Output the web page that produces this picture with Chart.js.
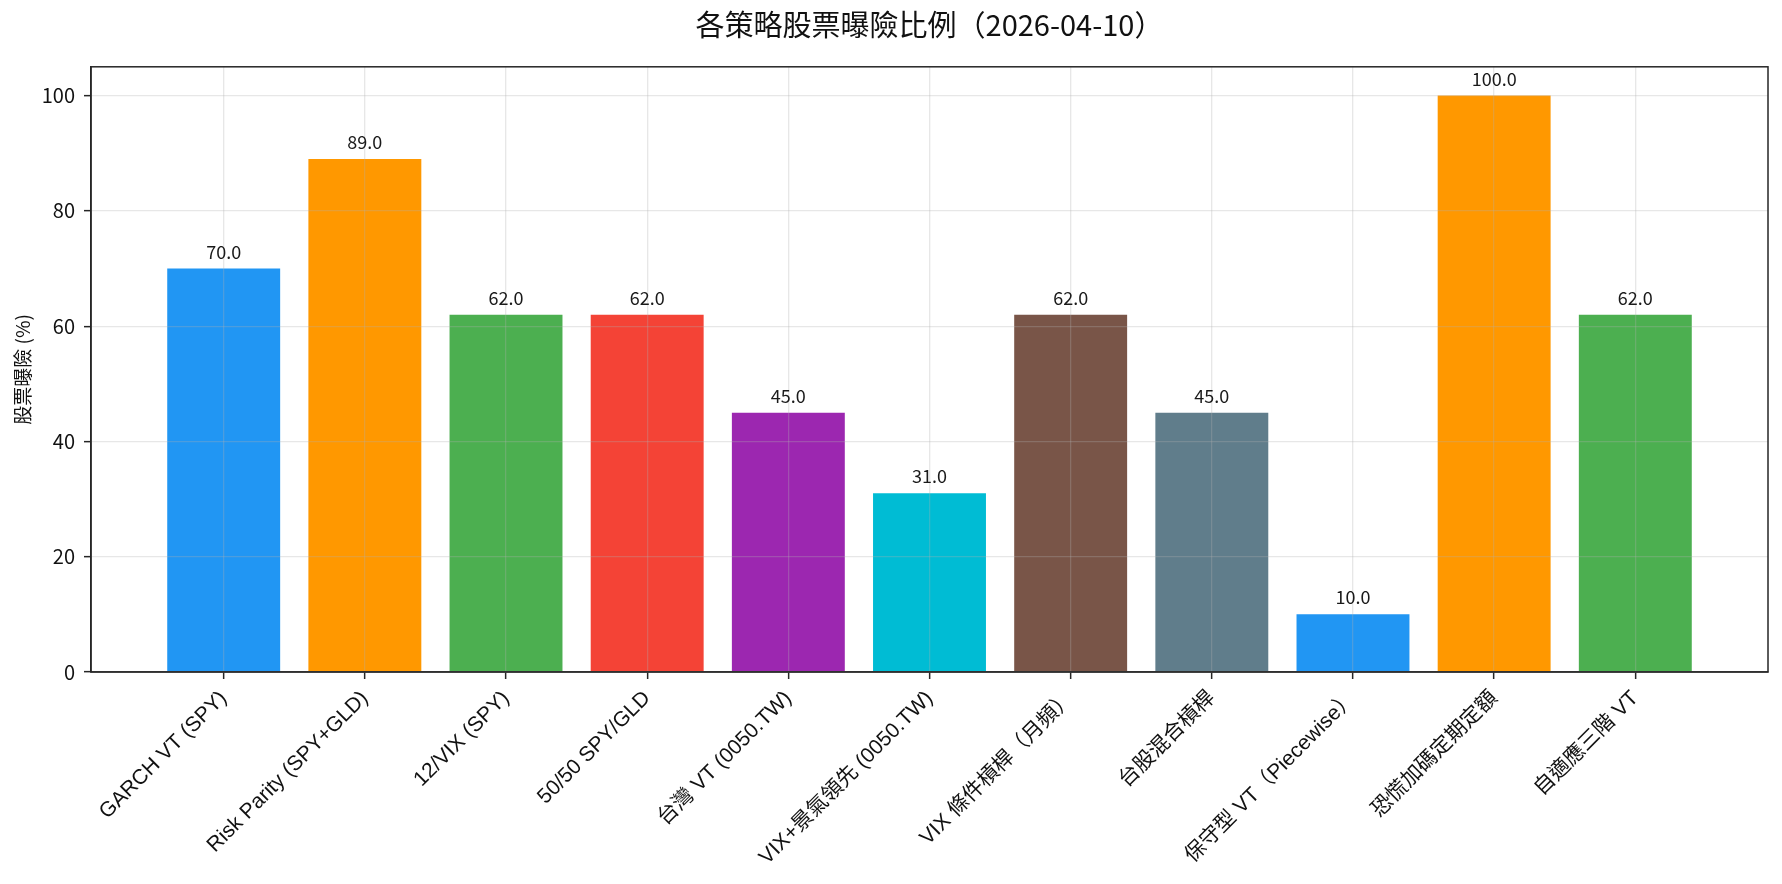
<!DOCTYPE html>
<html>
<head>
<meta charset="utf-8">
<script src="https://cdn.jsdelivr.net/npm/chart.js@4.4.1/dist/chart.umd.min.js"></script>
<style>
html, body { margin: 0; padding: 0; background: #fff; }
</style>
</head>
<body>
<canvas id="chart" width="1782" height="884"></canvas>
<script>
// 各策略名稱與曝險比例
var strategies = [
    'GARCH VT (SPY)',
    'Risk Parity (SPY+GLD)',
    '12/VIX (SPY)',
    '50/50 SPY/GLD',
    '台灣 VT (0050.TW)',
    'VIX+景氣領先 (0050.TW)',
    'VIX 條件槓桿（月頻）',
    '台股混合槓桿',
    '保守型 VT（Piecewise）',
    '恐慌加碼定期定額',
    '自適應三階 VT'
];
var exposure = [70, 89, 62, 62, 45, 31, 62, 45, 10, 100, 62];
var barColors = ['#2196F3', '#FF9800', '#4CAF50', '#F44336', '#9C27B0', '#00BCD4',
                 '#795548', '#607D8B', '#2196F3', '#FF9800', '#4CAF50'];
var yTicks = [0, 20, 40, 60, 80, 100];

var cjk = "'Noto Sans CJK TC', 'Noto Sans CJK SC', sans-serif";
var latin = "'Liberation Sans', 'Noto Sans CJK TC', sans-serif";
var ink = '#262626';

Chart.defaults.font.family = cjk;
Chart.defaults.color = ink;

// 外框（上、右邊線）
var framePlugin = {
    id: 'frame',
    afterDraw: function (c) {
        var a = c.chartArea, ctx = c.ctx;
        ctx.save();
        ctx.strokeStyle = ink;
        ctx.lineWidth = 1.5;
        ctx.strokeRect(a.left, a.top, a.right - a.left, a.bottom - a.top);
        ctx.restore();
    }
};

// 柱頂數值標籤
var valuePlugin = {
    id: 'values',
    afterDraw: function (c) {
        var ctx = c.ctx;
        var bars = c.getDatasetMeta(0).data;
        ctx.save();
        ctx.font = '18px ' + cjk;
        ctx.fillStyle = '#1a1a1a';
        ctx.textAlign = 'center';
        ctx.textBaseline = 'alphabetic';
        for (var i = 0; i < bars.length; i++) {
            ctx.fillText(exposure[i].toFixed(1), bars[i].x, bars[i].y - 10);
        }
        ctx.restore();
    }
};

var gridOpts = {
    z: 1,
    color: 'rgba(176,176,176,0.3)',
    lineWidth: 1.3,
    tickColor: ink,
    tickLength: 7,
    tickWidth: 1.5,
    offset: false
};

new Chart(document.getElementById('chart'), {
    type: 'bar',
    data: {
        datasets: [{
            data: exposure.map(function (v, i) { return { x: i, y: v }; }),
            backgroundColor: barColors,
            borderWidth: 0,
            barPercentage: 0.8,
            categoryPercentage: 1.0
        }]
    },
    options: {
        responsive: false,
        animation: false,
        devicePixelRatio: 1,
        layout: { padding: { left: 0, right: 14, top: 0, bottom: 0 } },
        plugins: {
            legend: { display: false },
            tooltip: { enabled: false },
            title: {
                display: true,
                fullSize: false,
                text: '各策略股票曝險比例（2026-04-10）',
                font: { size: 29, weight: 'normal' },
                color: '#111',
                padding: { top: 8, bottom: 24 }
            }
        },
        scales: {
            x: {
                type: 'linear',
                offset: false,
                min: -0.94,
                max: 10.94,
                afterBuildTicks: function (s) {
                    s.ticks = strategies.map(function (_, i) { return { value: i }; });
                },
                afterFit: function (s) { s.height = 212; },
                ticks: {
                    autoSkip: false,
                    maxRotation: 45,
                    minRotation: 45,
                    padding: 7,
                    font: { size: 21, family: latin },
                    color: '#111',
                    callback: function (v) { return strategies[v]; }
                },
                grid: gridOpts,
                border: { z: 1, color: ink, width: 1.5 }
            },
            y: {
                min: 0,
                max: 105,
                afterBuildTicks: function (s) {
                    s.ticks = yTicks.map(function (v) { return { value: v }; });
                },
                afterFit: function (s) { s.width = 91; },
                ticks: {
                    padding: 9,
                    font: { size: 20 },
                    color: '#111'
                },
                grid: gridOpts,
                border: { z: 1, color: ink, width: 1.5 },
                title: {
                    display: true,
                    text: '股票曝險 (%)',
                    font: { size: 19 },
                    color: '#111',
                    padding: { top: 11, bottom: 4 }
                }
            }
        }
    },
    plugins: [framePlugin, valuePlugin]
});
</script>
</body>
</html>
